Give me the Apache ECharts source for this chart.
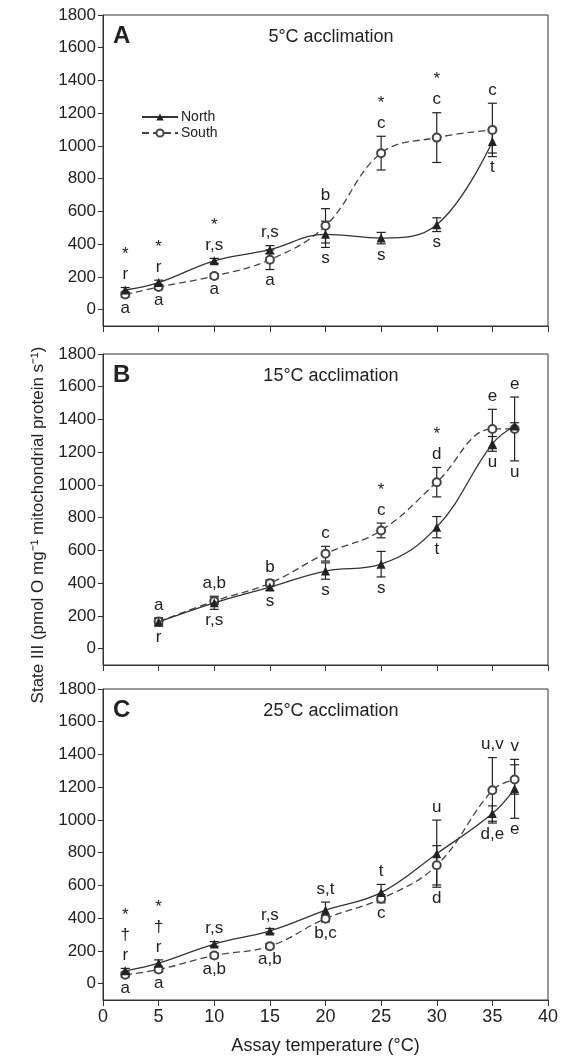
<!DOCTYPE html>
<html>
<head>
<meta charset="utf-8" />
<title>State III respiration</title>
<style>
  html, body { margin: 0; padding: 0; background: #fff; }
  #chart { width: 577px; height: 1060px; }
</style>
</head>
<body>
<div id="chart"></div>
<script src="https://cdn.jsdelivr.net/npm/echarts@6/dist/echarts.min.js"></script>
<script>
const yTicks = [0, 200, 400, 600, 800, 1000, 1200, 1400, 1600, 1800];

// A: 5°C acclimation
const tempsA = [2, 5, 10, 15, 20, 25, 30, 35];
const northA = [120, 165, 298, 366, 460, 437, 519, 1027];
const northErrA = [15, 15, 15, 25, 80, 35, 42, 70];
const southA = [92, 138, 205, 305, 512, 956, 1051, 1098];
const southErrA = [15, 15, 15, 60, 105, 103, 152, 163];
const aboveA = ['*\nr', '*\nr', '*\nr,s', 'r,s', 'b', '*\nc', '*\nc', 'c'];
const belowA = ['a', 'a', 'a', 'a', 's', 's', 's', 't'];

// B: 15°C acclimation
const tempsB = [5, 10, 15, 20, 25, 30, 35, 37];
const northB = [163, 280, 376, 474, 516, 742, 1251, 1360];
const northErrB = [25, 40, 20, 50, 78, 65, 45, 20];
const southB = [165, 290, 400, 580, 722, 1017, 1342, 1342];
const southErrB = [20, 20, 20, 45, 45, 90, 120, 195];
const aboveB = ['a', 'a,b', 'b', 'c', '*\nc', '*\nd', 'e', 'e'];
const belowB = ['r', 'r,s', 's', 's', 's', 't', 'u', 'u'];

// C: 25°C acclimation
const tempsC = [2, 5, 10, 15, 20, 25, 30, 35, 37];
const northC = [78, 125, 242, 322, 448, 556, 794, 1039, 1190];
const northErrC = [15, 20, 15, 15, 50, 50, 205, 47, 180];
const southC = [55, 86, 172, 229, 397, 519, 723, 1181, 1247];
const southErrC = [15, 15, 15, 15, 20, 25, 120, 200, 90];
const aboveC = ['*\n†\nr', '*\n†\nr', 'r,s', 'r,s', 's,t', 't', 'u', 'u,v', 'v'];
const belowC = ['a', 'a', 'a,b', 'a,b', 'b,c', 'c', 'd', 'd,e', 'e'];

const panels = [
  { letter: 'A', title: '5°C acclimation', temps: tempsA, north: northA, northErr: northErrA, south: southA, southErr: southErrA, above: aboveA, below: belowA },
  { letter: 'B', title: '15°C acclimation', temps: tempsB, north: northB, northErr: northErrB, south: southB, southErr: southErrB, above: aboveB, below: belowB },
  { letter: 'C', title: '25°C acclimation', temps: tempsC, north: northC, northErr: northErrC, south: southC, southErr: southErrC, above: aboveC, below: belowC }
];

const FONT = '"Liberation Sans", Arial, Helvetica, sans-serif';
const INK = '#222';
const gridTops = [15, 354, 689];
const gridH = 311;

const grids = [], xAxes = [], yAxes = [], series = [], graphics = [];

const errorBar = (params, api) => {
  const x = api.value(0);
  const lo = api.coord([x, api.value(1)]);
  const hi = api.coord([x, api.value(2)]);
  const w = 4.5;
  const st = { stroke: INK, lineWidth: 1.2 };
  return {
    type: 'group',
    children: [
      { type: 'line', shape: { x1: lo[0], y1: lo[1], x2: hi[0], y2: hi[1] }, style: st },
      { type: 'line', shape: { x1: lo[0] - w, y1: lo[1], x2: lo[0] + w, y2: lo[1] }, style: st },
      { type: 'line', shape: { x1: hi[0] - w, y1: hi[1], x2: hi[0] + w, y2: hi[1] }, style: st }
    ]
  };
};

panels.forEach((p, i) => {
  grids.push({
    left: 103, width: 445, top: gridTops[i], height: gridH,
    show: true, borderColor: '#333', borderWidth: 1, backgroundColor: 'transparent'
  });
  xAxes.push({
    type: 'value', gridIndex: i, min: 0, max: 40, interval: 5,
    name: i === 2 ? 'Assay temperature (°C)' : '',
    nameLocation: 'middle', nameGap: 37,
    nameTextStyle: { fontFamily: FONT, fontSize: 18, color: INK },
    axisLine: { show: true, onZero: false, lineStyle: { color: '#333', width: 1 } },
    axisTick: { show: true, inside: false, length: 6, lineStyle: { color: '#333' } },
    axisLabel: { show: i === 2, fontFamily: FONT, fontSize: 18, color: INK, margin: 8 },
    splitLine: { show: false }
  });
  yAxes.push({
    type: 'value', gridIndex: i, min: -100, max: 1800,
    axisLine: { show: true, onZero: false, lineStyle: { color: '#333', width: 1 } },
    axisTick: { show: true, inside: false, length: 5, customValues: yTicks, lineStyle: { color: '#333' } },
    axisLabel: { customValues: yTicks, formatter: v => String(v), fontFamily: FONT, fontSize: 17, color: INK, margin: 7 },
    splitLine: { show: false }
  });

  const nData = p.temps.map((t, j) => [t, p.north[j]]);
  const sData = p.temps.map((t, j) => [t, p.south[j]]);

  series.push({
    type: 'custom', name: 'northErr', xAxisIndex: i, yAxisIndex: i, z: 2, silent: true,
    renderItem: errorBar, encode: { x: 0, y: [1, 2] },
    data: p.temps.map((t, j) => [t, p.north[j] - p.northErr[j], p.north[j] + p.northErr[j]])
  });
  series.push({
    type: 'custom', name: 'southErr', xAxisIndex: i, yAxisIndex: i, z: 2, silent: true,
    renderItem: errorBar, encode: { x: 0, y: [1, 2] },
    data: p.temps.map((t, j) => [t, p.south[j] - p.southErr[j], p.south[j] + p.southErr[j]])
  });
  series.push({
    type: 'line', name: 'South', xAxisIndex: i, yAxisIndex: i, z: 3,
    data: sData, smooth: 0.4, symbol: 'emptyCircle', symbolSize: 8,
    itemStyle: { color: '#444', borderWidth: 1.1 },
    lineStyle: { color: '#444', width: 1.3, type: [7, 4] }
  });
  series.push({
    type: 'line', name: 'North', xAxisIndex: i, yAxisIndex: i, z: 4,
    data: nData, smooth: 0.4, symbol: 'triangle', symbolSize: 9,
    itemStyle: { color: INK },
    lineStyle: { color: '#333', width: 1.3 }
  });

  // significance letters above and below each temperature
  series.push({
    type: 'custom', name: 'letters', xAxisIndex: i, yAxisIndex: i, z: 5, silent: true,
    encode: { x: 0, y: [1, 2] },
    data: p.temps.map((t, j) => [
      t,
      Math.max(p.north[j] + p.northErr[j], p.south[j] + p.southErr[j]),
      Math.min(p.north[j] - p.northErr[j], p.south[j] - p.southErr[j])
    ]),
    renderItem: (params, api) => {
      const k = params.dataIndex;
      const top = api.coord([api.value(0), api.value(1)]);
      const bot = api.coord([api.value(0), api.value(2)]);
      const font = '17px ' + FONT;
      return {
        type: 'group',
        children: [
          { type: 'text', style: { text: p.above[k], x: top[0], y: top[1] - 3, font: font, fill: INK, align: 'center', verticalAlign: 'bottom', lineHeight: 20 } },
          { type: 'text', style: { text: p.below[k], x: bot[0], y: bot[1] + 1, font: font, fill: INK, align: 'center', verticalAlign: 'top', lineHeight: 20 } }
        ]
      };
    }
  });

  graphics.push({
    type: 'text', x: 113, y: gridTops[i] + 21, silent: true,
    style: { text: p.letter, font: 'bold 24px ' + FONT, fill: INK, textAlign: 'left', textVerticalAlign: 'middle' }
  });
  graphics.push({
    type: 'text', x: 331, y: gridTops[i] + 22, silent: true,
    style: { text: p.title, font: '18px ' + FONT, fill: INK, textAlign: 'center', textVerticalAlign: 'middle' }
  });
});

graphics.push({
  type: 'text', x: 38, y: 525, rotation: Math.PI / 2, silent: true,
  style: { text: 'State III (pmol O mg⁻¹ mitochondrial protein s⁻¹)', font: '17px ' + FONT, fill: INK, textAlign: 'center', textVerticalAlign: 'middle' }
});

const chart = echarts.init(document.getElementById('chart'));
chart.setOption({
  animation: false,
  backgroundColor: '#fff',
  textStyle: { fontFamily: FONT },
  grid: grids,
  xAxis: xAxes,
  yAxis: yAxes,
  legend: {
    data: ['North', 'South'],
    orient: 'vertical', left: 136, top: 105,
    itemWidth: 36, itemHeight: 9, itemGap: 2,
    textStyle: { fontFamily: FONT, fontSize: 14, color: INK, padding: [0, 0, 0, -2] }
  },
  graphic: graphics,
  series: series
});
</script>
</body>
</html>
